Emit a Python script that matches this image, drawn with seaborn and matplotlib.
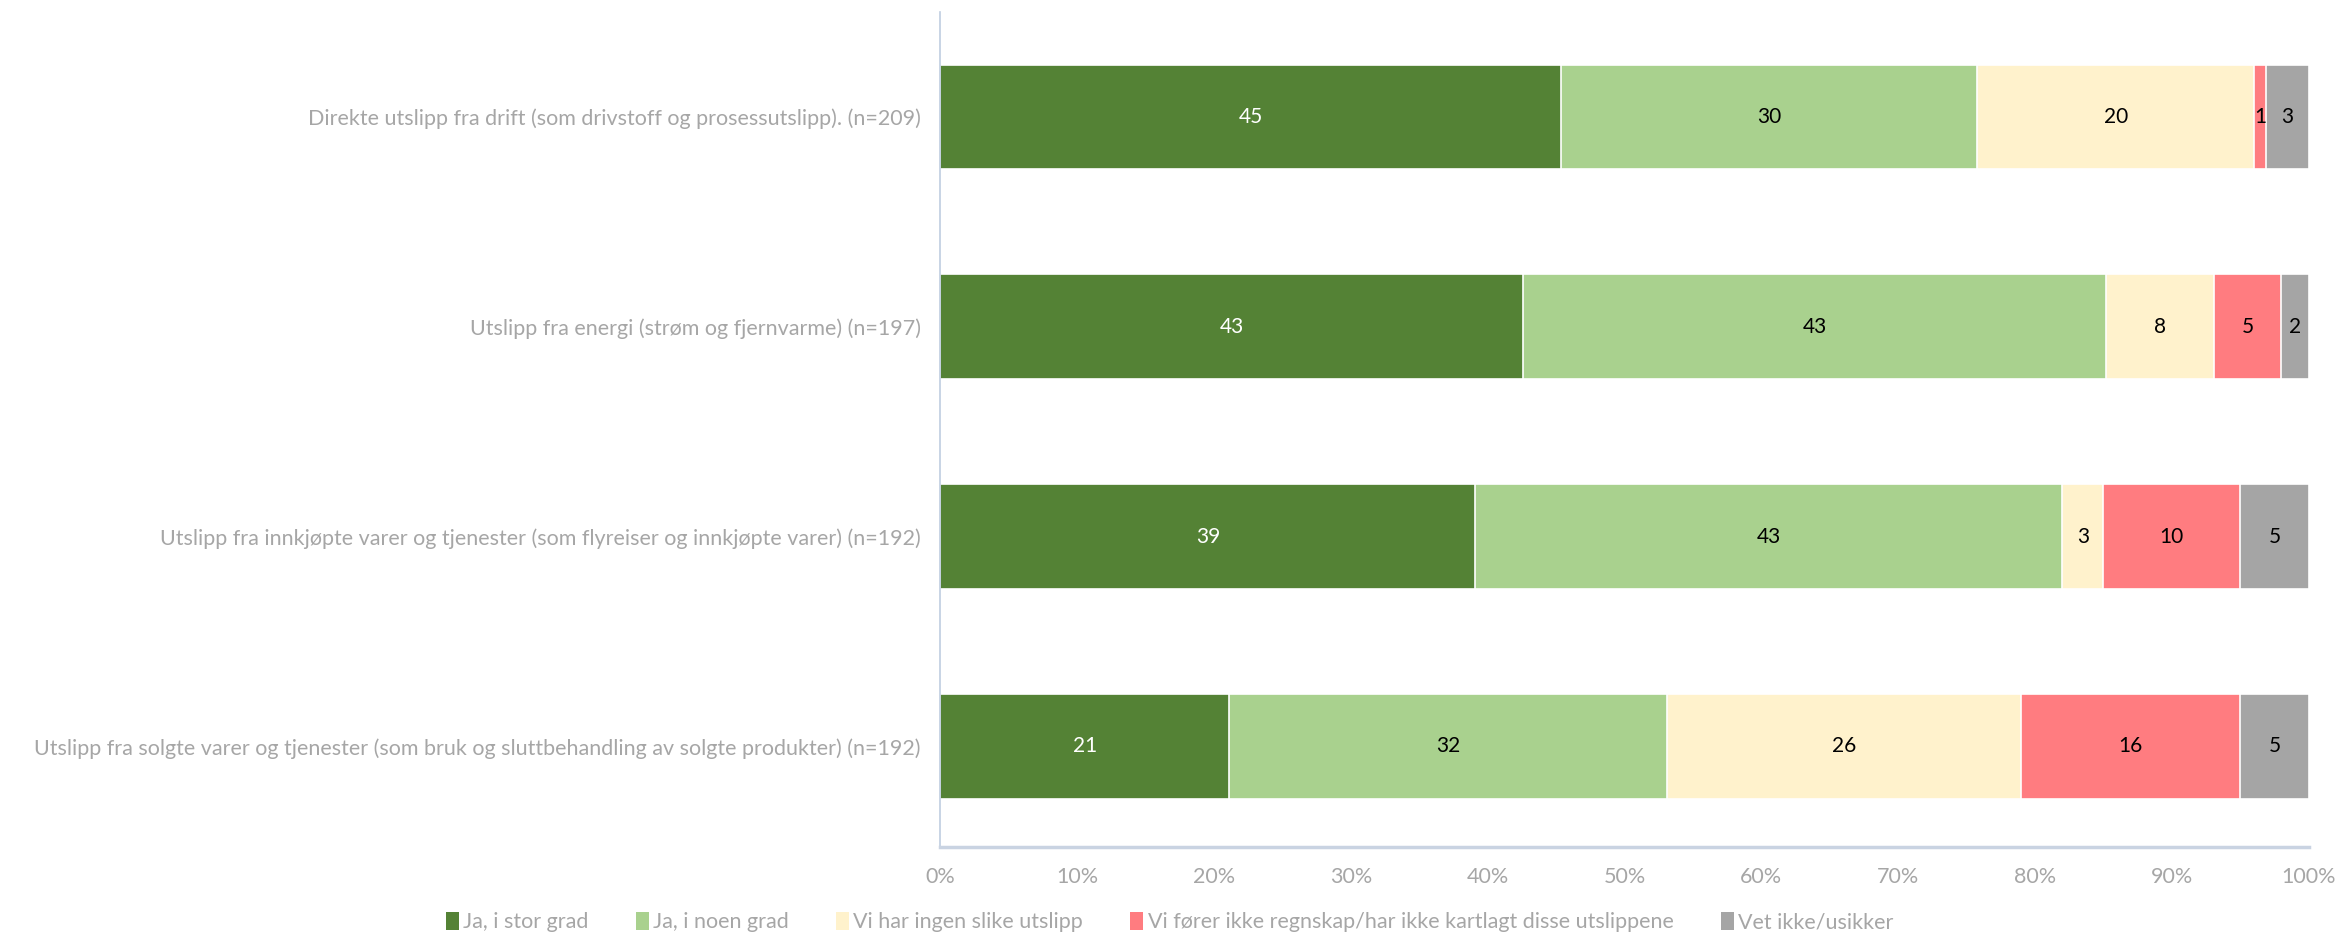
import numpy as np
import pandas as pd
import seaborn as sns
import matplotlib.pyplot as plt
from matplotlib.patches import Patch
from matplotlib.ticker import PercentFormatter

# Categories (rows, top to bottom)
questions = [
    "Direkte utslipp fra drift (som drivstoff og prosessutslipp). (n=209)",
    "Utslipp fra energi (strøm og fjernvarme) (n=197)",
    "Utslipp fra innkjøpte varer og tjenester (som flyreiser og innkjøpte varer) (n=192)",
    "Utslipp fra solgte varer og tjenester (som bruk og sluttbehandling av solgte produkter) (n=192)",
]

# Answer options (stack order, left to right)
answers = [
    "Ja, i stor grad",
    "Ja, i noen grad",
    "Vi har ingen slike utslipp",
    "Vi fører ikke regnskap/har ikke kartlagt disse utslippene",
    "Vet ikke/usikker",
]

# Shares in percent
stor_grad = [45.4, 42.6, 39.1, 21.1]
noen_grad = [30.4, 42.6, 42.9, 32.0]
ingen_utslipp = [20.2, 7.9, 3.0, 25.9]
ikke_kartlagt = [0.9, 4.9, 10.0, 16.0]
vet_ikke = [3.1, 2.0, 5.0, 5.0]

# Labels shown in the bars
lbl_stor = [45, 43, 39, 21]
lbl_noen = [30, 43, 43, 32]
lbl_ingen = [20, 8, 3, 26]
lbl_ikke = [1, 5, 10, 16]
lbl_vet = [3, 2, 5, 5]

colors = ["#548235", "#A9D18E", "#FFF2CC", "#FF7C80", "#A5A5A5"]
text_colors = ["white", "black", "black", "black", "black"]

series = [stor_grad, noen_grad, ingen_utslipp, ikke_kartlagt, vet_ikke]
labels = [lbl_stor, lbl_noen, lbl_ingen, lbl_ikke, lbl_vet]

df = pd.DataFrame(np.array(series).T, columns=answers)
df["Spørsmål"] = questions
cum = df[answers].cumsum(axis=1)

sns.set_style("white")
plt.rcParams["font.family"] = ["Lato", "DejaVu Sans"]

fig = plt.figure(figsize=(23.39, 9.34), dpi=100)
ax = fig.add_axes([0.402, 0.093, 0.585, 0.894])

# Stacked bars: draw cumulative totals from the right-most segment backwards
for i in range(len(answers) - 1, -1, -1):
    sns.barplot(x=cum[answers[i]], y=df["Spørsmål"], orient="h", color=colors[i],
                width=0.5, edgecolor="white", linewidth=1.2, ax=ax, saturation=1)

# Data labels in the middle of each segment
for i, ans in enumerate(answers):
    left = cum[ans] - df[ans]
    for r in range(len(questions)):
        ax.text(left[r] + df[ans][r] / 2, r, str(labels[i][r]), ha="center", va="center",
                fontsize=15, color=text_colors[i])

ax.set_xlim(0, 100)
ax.set_ylim(3.48, -0.5)
ax.xaxis.set_major_formatter(PercentFormatter(decimals=0))
ax.set_xticks(np.arange(0, 101, 10))
ax.set_xlabel("")
ax.set_ylabel("")
ax.tick_params(axis="both", length=0, colors="#A6A6A6", labelsize=15.5)
ax.tick_params(axis="x", pad=14)
ax.tick_params(axis="y", pad=14)

for side in ["top", "right"]:
    ax.spines[side].set_visible(False)
ax.spines["left"].set_color("#BFCDE0")
ax.spines["left"].set_linewidth(1.2)
ax.spines["bottom"].set_color("#C9D3E2")
ax.spines["bottom"].set_linewidth(2.5)

handles = [Patch(facecolor=c, edgecolor="none") for c in colors]
fig.legend(handles, answers, loc="center", bbox_to_anchor=(0.5, 0.013), ncol=5,
           frameon=False, fontsize=15.5, labelcolor="#A6A6A6", handlelength=0.6,
           handleheight=0.9, handletextpad=0.2, columnspacing=2.2)

fig.savefig("out.png", dpi=100)
